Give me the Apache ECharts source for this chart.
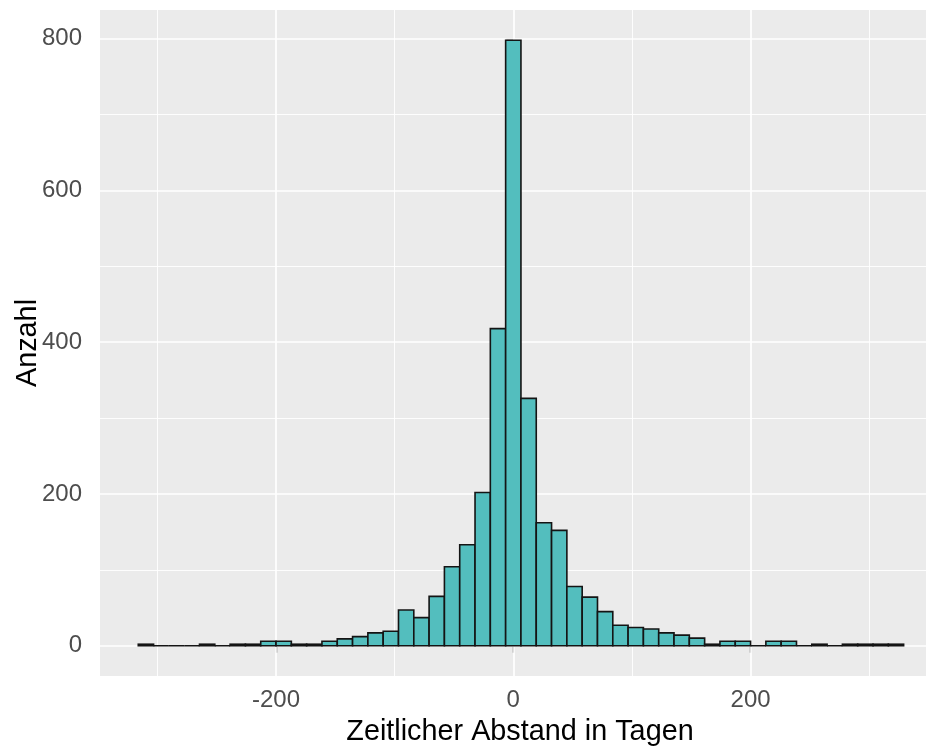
<!DOCTYPE html>
<html>
<head>
<meta charset="utf-8">
<script src="https://cdn.jsdelivr.net/npm/echarts@6/dist/echarts.min.js"></script>
<style>
  html, body { margin: 0; padding: 0; background: #fff; }
  #chart { width: 926px; height: 751px; }
</style>
</head>
<body>
<div id="chart"></div>
<script>
// histogram: 50 bins, first edge and width
const binStart = -316.05;
const binWidth = 12.9;
const counts = [
  2, 0, 0, 0, 2, 0, 2, 2, 6, 6,
  2, 2, 6, 9, 12, 17, 19, 47, 37, 65,
  104, 133, 202, 418, 798, 326, 162, 152, 78, 64,
  45, 27, 24, 22, 17, 14, 10, 2, 6, 6,
  0, 6, 6, 0, 2, 0, 2, 2, 2, 2
];
const xMajorTicks = [-200, 0, 200];
const xMinorLines = [-300, -100, 100, 300];
const yMajorTicks = [0, 200, 400, 600, 800];
const yMinorLines = [100, 300, 500, 700];

const X_MIN = -348.3, X_MAX = 347.8;
const Y_MIN = -39.9, Y_MAX = 837.9;

const fontFamily = '"Liberation Sans", Arial, sans-serif';

const chart = echarts.init(document.getElementById('chart'));

// [left edge, right edge, count]
const data = counts.map(function (n, i) {
  return [binStart + i * binWidth, binStart + (i + 1) * binWidth, n];
});

function renderItem(params, api) {
  const topLeft = api.coord([api.value(0), api.value(2)]);
  const bottomRight = api.coord([api.value(1), 0]);
  return {
    type: 'rect',
    shape: {
      x: topLeft[0],
      y: topLeft[1],
      width: bottomRight[0] - topLeft[0],
      height: bottomRight[1] - topLeft[1]
    },
    style: {
      fill: '#53BEBE',
      stroke: '#141414',
      lineWidth: 1.6
    }
  };
}

// white panel grid, ggplot style: thick major, thin minor
const gridLines = [];
xMinorLines.forEach(function (v) { gridLines.push({ xAxis: v, lineStyle: { width: 0.9 } }); });
yMinorLines.forEach(function (v) { gridLines.push({ yAxis: v, lineStyle: { width: 0.9 } }); });
xMajorTicks.forEach(function (v) { gridLines.push({ xAxis: v, lineStyle: { width: 1.7 } }); });
yMajorTicks.forEach(function (v) { gridLines.push({ yAxis: v, lineStyle: { width: 1.7 } }); });

const option = {
  animation: false,
  backgroundColor: '#ffffff',
  grid: {
    left: 100,
    right: 0,
    top: 10,
    bottom: 75,
    outerBoundsMode: 'none',
    containLabel: false,
    show: true,
    backgroundColor: '#EBEBEB',
    borderWidth: 0
  },
  xAxis: {
    type: 'value',
    min: X_MIN,
    max: X_MAX,
    axisLine: { show: false },
    axisTick: {
      show: true,
      length: 7,
      customValues: xMajorTicks,
      lineStyle: { color: '#333333', width: 1.3 }
    },
    axisLabel: {
      customValues: xMajorTicks,
      margin: 12,
      color: '#4D4D4D',
      fontSize: 24,
      fontFamily: fontFamily
    },
    splitLine: { show: false },
    name: 'Zeitlicher Abstand in Tagen',
    nameLocation: 'middle',
    nameMoveOverlap: false,
    nameGap: 42,
    // the original panel runs past the right edge, so its title sits a bit right of centre
    nameTextStyle: { color: '#000000', fontSize: 28.8, fontFamily: fontFamily, padding: [0, 0, 0, 14] }
  },
  yAxis: {
    type: 'value',
    min: Y_MIN,
    max: Y_MAX,
    axisLine: { show: false },
    axisTick: {
      show: true,
      length: 7,
      customValues: yMajorTicks,
      lineStyle: { color: '#333333', width: 1.3 }
    },
    axisLabel: {
      customValues: yMajorTicks,
      margin: 18,
      color: '#4D4D4D',
      fontSize: 24,
      fontFamily: fontFamily
    },
    splitLine: { show: false },
    name: 'Anzahl',
    nameLocation: 'middle',
    nameMoveOverlap: false,
    nameGap: 57,
    nameTextStyle: { color: '#000000', fontSize: 28.8, fontFamily: fontFamily }
  },
  series: [
    {
      type: 'line',
      data: [],
      silent: true,
      z: 1,
      markLine: {
        silent: true,
        z: 1,
        animation: false,
        symbol: ['none', 'none'],
        label: { show: false },
        emphasis: { disabled: true },
        lineStyle: { color: '#ffffff', type: 'solid' },
        data: gridLines
      }
    },
    {
      type: 'custom',
      z: 2,
      renderItem: renderItem,
      encode: { x: [0, 1], y: 2 },
      data: data
    }
  ]
};

chart.setOption(option);
</script>
</body>
</html>
